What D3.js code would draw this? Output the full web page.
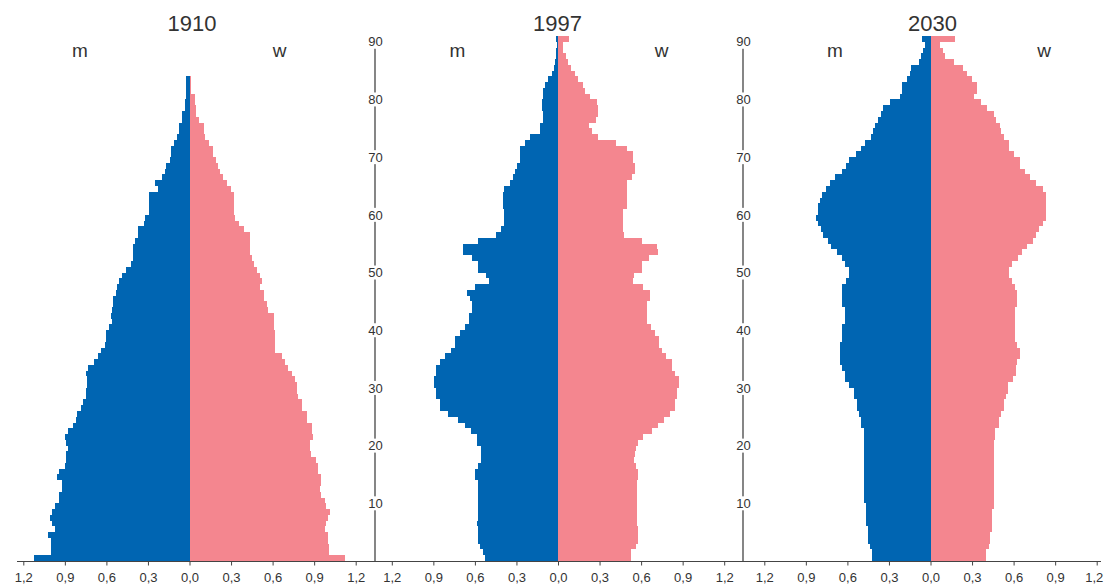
<!DOCTYPE html>
<meta charset="utf-8">
<html>
<head>
  <script src="https://d3js.org/d3.v7.min.js" charset="utf-8"></script>
</head>
<style>
body {
    margin: 0;
    background-color: white;
}
text {
    font-family: "Liberation Sans", Arial, sans-serif;
    fill: #333;
}
.title {
    text-anchor: middle;
    font-size: 22px;
}
.sex {
    text-anchor: middle;
    font-size: 19px;
}
.tick text {
    font-size: 13px;
}
.agelabel {
    text-anchor: middle;
    font-size: 13px;
}
</style>
<body>
<div id="container"></div>
<script type="text/javascript">

// population share per age year (percent), index = age
var years = ["1910", "1997", "2030"]

var men1910 = [1.12, 1.00, 1.00, 1.00, 1.02, 0.97, 0.99, 1.01, 0.99, 0.97,
  0.94, 0.94, 0.92, 0.92, 0.96, 0.94, 0.90, 0.89, 0.89, 0.88,
  0.89, 0.90, 0.88, 0.84, 0.82, 0.81, 0.78, 0.77, 0.75, 0.75,
  0.74, 0.74, 0.75, 0.73, 0.69, 0.66, 0.64, 0.61, 0.60, 0.60,
  0.58, 0.56, 0.57, 0.56, 0.55, 0.55, 0.53, 0.52, 0.51, 0.49,
  0.46, 0.42, 0.41, 0.41, 0.41, 0.39, 0.37, 0.37, 0.33, 0.32,
  0.29, 0.29, 0.29, 0.29, 0.23, 0.25, 0.20, 0.18, 0.17, 0.14,
  0.13, 0.13, 0.11, 0.09, 0.075, 0.075, 0.055, 0.055, 0.036, 0.036,
  0.026, 0.026, 0.026, 0.026]

var women1910 = [1.12, 1.01, 1.005, 1.00, 1.00, 0.976, 0.988, 1.00, 1.017, 0.988,
  0.976, 0.952, 0.94, 0.952, 0.952, 0.93, 0.93, 0.912, 0.88, 0.869,
  0.869, 0.893, 0.886, 0.886, 0.845, 0.845, 0.81, 0.81, 0.786, 0.774,
  0.774, 0.762, 0.738, 0.714, 0.69, 0.667, 0.62, 0.614, 0.614, 0.614,
  0.607, 0.607, 0.607, 0.57, 0.56, 0.54, 0.54, 0.512, 0.524, 0.512,
  0.488, 0.464, 0.448, 0.44, 0.436, 0.436, 0.436, 0.393, 0.357, 0.329,
  0.32, 0.32, 0.32, 0.32, 0.298, 0.274, 0.245, 0.221, 0.207, 0.19,
  0.171, 0.171, 0.138, 0.114, 0.102, 0.102, 0.071, 0.048, 0.048, 0.043,
  0.043, 0.01, 0.01, 0.01]

var men1997 = [0.529, 0.545, 0.562, 0.581, 0.581, 0.581, 0.586, 0.576, 0.576, 0.576,
  0.576, 0.576, 0.576, 0.576, 0.60, 0.60, 0.576, 0.557, 0.557, 0.557,
  0.586, 0.586, 0.629, 0.669, 0.724, 0.795, 0.85, 0.85, 0.879, 0.879,
  0.898, 0.898, 0.879, 0.879, 0.85, 0.814, 0.771, 0.743, 0.743, 0.705,
  0.669, 0.64, 0.64, 0.621, 0.621, 0.636, 0.657, 0.60, 0.498, 0.517,
  0.576, 0.576, 0.621, 0.688, 0.688, 0.576, 0.45, 0.41, 0.39, 0.39,
  0.39, 0.395, 0.395, 0.395, 0.39, 0.348, 0.324, 0.307, 0.295, 0.276,
  0.276, 0.276, 0.236, 0.20, 0.129, 0.129, 0.11, 0.11, 0.117, 0.117,
  0.11, 0.11, 0.093, 0.069, 0.045, 0.029, 0.021, 0.017, 0.017, 0.005,
  0.017]

var women1997 = [0.526, 0.526, 0.562, 0.581, 0.581, 0.581, 0.574, 0.574, 0.574, 0.574,
  0.574, 0.574, 0.574, 0.574, 0.581, 0.581, 0.562, 0.55, 0.555, 0.562,
  0.581, 0.614, 0.681, 0.724, 0.764, 0.812, 0.843, 0.843, 0.86, 0.86,
  0.876, 0.876, 0.843, 0.824, 0.824, 0.783, 0.748, 0.729, 0.729, 0.70,
  0.669, 0.645, 0.64, 0.64, 0.64, 0.662, 0.662, 0.614, 0.538, 0.55,
  0.61, 0.61, 0.657, 0.724, 0.717, 0.61, 0.48, 0.47, 0.47, 0.47,
  0.47, 0.495, 0.495, 0.495, 0.495, 0.495, 0.535, 0.555, 0.555, 0.54,
  0.54, 0.50, 0.42, 0.29, 0.245, 0.225, 0.275, 0.29, 0.29, 0.285,
  0.23, 0.195, 0.181, 0.145, 0.121, 0.095, 0.075, 0.055, 0.038, 0.038,
  0.076]

var men2030 = [0.424, 0.424, 0.435, 0.448, 0.448, 0.448, 0.467, 0.467, 0.467, 0.467,
  0.483, 0.483, 0.483, 0.483, 0.483, 0.483, 0.483, 0.483, 0.483, 0.483,
  0.483, 0.483, 0.483, 0.50, 0.50, 0.519, 0.531, 0.531, 0.55, 0.55,
  0.59, 0.614, 0.614, 0.638, 0.655, 0.655, 0.655, 0.655, 0.638, 0.638,
  0.638, 0.619, 0.619, 0.619, 0.638, 0.638, 0.638, 0.638, 0.607, 0.59,
  0.59, 0.614, 0.638, 0.674, 0.717, 0.74, 0.774, 0.793, 0.81, 0.829,
  0.812, 0.812, 0.80, 0.781, 0.757, 0.726, 0.693, 0.638, 0.61, 0.59,
  0.536, 0.502, 0.471, 0.43, 0.417, 0.40, 0.381, 0.36, 0.34, 0.293,
  0.221, 0.205, 0.205, 0.167, 0.15, 0.138, 0.083, 0.067, 0.055, 0.043,
  0.062]

var women2030 = [0.402, 0.402, 0.421, 0.429, 0.429, 0.445, 0.445, 0.445, 0.445, 0.462,
  0.462, 0.462, 0.462, 0.462, 0.462, 0.462, 0.462, 0.462, 0.462, 0.462,
  0.462, 0.469, 0.469, 0.493, 0.493, 0.51, 0.529, 0.529, 0.545, 0.557,
  0.557, 0.595, 0.617, 0.617, 0.624, 0.643, 0.643, 0.624, 0.607, 0.607,
  0.607, 0.607, 0.607, 0.607, 0.624, 0.624, 0.624, 0.612, 0.588, 0.564,
  0.564, 0.588, 0.629, 0.66, 0.695, 0.738, 0.762, 0.786, 0.81, 0.833,
  0.833, 0.833, 0.833, 0.833, 0.81, 0.762, 0.719, 0.683, 0.648, 0.648,
  0.605, 0.564, 0.564, 0.533, 0.51, 0.50, 0.47, 0.457, 0.41, 0.362,
  0.314, 0.333, 0.333, 0.302, 0.267, 0.238, 0.17, 0.105, 0.088, 0.07,
  0.176]

var ageTicks = [10, 20, 30, 40, 50, 60, 70, 80, 90]
var valueTicks = [-1.2, -0.9, -0.6, -0.3, 0, 0.3, 0.6, 0.9, 1.2]

var menSeries = [men1910, men1997, men2030]
var womenSeries = [women1910, women1997, women2030]

var width = 1104
var height = 585
var baseline = 561
var pxPerUnit = 138.5
var centers = [189.5, 558, 930.5]
var titleX = [192, 557.5, 932.5]
var mX = [80, 457.5, 835]
var wX = [279.5, 661.5, 1044]
var ageAxisX = [null, 375, 743]

var colorMen = "#0065b2"
var colorWomen = "#f4868f"

var svg = d3.select("#container")
            .append("svg")
            .attr("width", width)
            .attr("height", height)

var y = d3.scaleLinear().domain([0, 91]).range([baseline, 36])

var fmt = d3.format(".1f")

// baseline across all three panels
svg.append("line")
   .attr("x1", 17).attr("x2", 1101)
   .attr("y1", baseline + 0.5).attr("y2", baseline + 0.5)
   .attr("stroke", "#444")
   .attr("stroke-width", 1.2)

years.forEach(function(year, i) {
  var c = centers[i]
  var x = d3.scaleLinear()
            .domain([-1.2, 1.2])
            .range([c - 1.2 * pxPerUnit, c + 1.2 * pxPerUnit])

  var g = svg.append("g")

  g.append("g").selectAll("rect")
   .data(menSeries[i])
   .enter()
   .append("rect")
   .attr("x", (d) => x(-d))
   .attr("y", (d, a) => y(a + 1))
   .attr("width", (d) => x(0) - x(-d))
   .attr("height", (d, a) => y(a) - y(a + 1))
   .attr("fill", colorMen)
   .attr("shape-rendering", "crispEdges")

  g.append("g").selectAll("rect")
   .data(womenSeries[i])
   .enter()
   .append("rect")
   .attr("x", x(0))
   .attr("y", (d, a) => y(a + 1))
   .attr("width", (d) => x(d) - x(0))
   .attr("height", (d, a) => y(a) - y(a + 1))
   .attr("fill", colorWomen)
   .attr("shape-rendering", "crispEdges")

  var axis = d3.axisBottom(x)
               .tickValues(valueTicks)
               .tickSize(4)
               .tickPadding(7)
               .tickFormat((d) => fmt(Math.abs(d)).replace(".", ","))

  var ax = g.append("g")
            .attr("transform", "translate(0," + (baseline + 0.5) + ")")
            .call(axis)
  ax.select(".domain").remove()
  ax.selectAll(".tick line").attr("stroke", "#444")
  ax.selectAll(".tick text")
    .attr("font-family", "Liberation Sans, Arial, sans-serif")
    .attr("font-size", 13)
    .attr("fill", "#333")
    .attr("dx", (d) => (i == 2 && d == 1.2) ? -3 : 0)

  g.append("text").attr("class", "title")
   .attr("x", titleX[i]).attr("y", 31)
   .text(year)

  g.append("text").attr("class", "sex")
   .attr("x", mX[i]).attr("y", 57)
   .text("m")

  g.append("text").attr("class", "sex")
   .attr("x", wX[i]).attr("y", 57)
   .text("w")

  if (ageAxisX[i] !== null) {
    var ya = g.append("g")
    ya.append("line")
      .attr("x1", ageAxisX[i]).attr("x2", ageAxisX[i])
      .attr("y1", y(90)).attr("y2", baseline)
      .attr("stroke", "#444")
      .attr("stroke-width", 1.3)
    ya.selectAll("rect.bg")
      .data(ageTicks)
      .enter()
      .append("rect")
      .attr("class", "bg")
      .attr("x", ageAxisX[i] - 9)
      .attr("y", (d) => y(d) - 7)
      .attr("width", 18)
      .attr("height", 14)
      .attr("fill", "white")
    ya.selectAll("text")
      .data(ageTicks)
      .enter()
      .append("text")
      .attr("class", "agelabel")
      .attr("x", ageAxisX[i] + 0.5)
      .attr("y", (d) => y(d))
      .attr("dy", "0.36em")
      .text((d) => d)
  }
})

</script>
</body>
</html>
